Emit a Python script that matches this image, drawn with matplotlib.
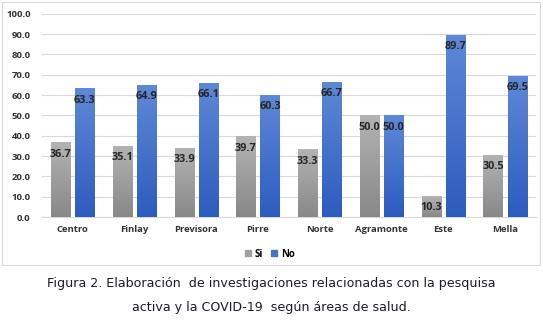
import numpy as np
import matplotlib.pyplot as plt
from matplotlib.patches import Rectangle
from matplotlib.colors import LinearSegmentedColormap

# --- Dati ---
areas = ['Centro', 'Finlay', 'Previsora', 'Pirre', 'Norte', 'Agramonte', 'Este', 'Mella']
si = [36.7, 35.1, 33.9, 39.7, 33.3, 50.0, 10.3, 30.5]
no = [63.3, 64.9, 66.1, 60.3, 66.7, 50.0, 89.7, 69.5]
y_ticks = np.arange(0, 101, 10)

caption1 = 'Figura 2. Elaboración  de investigaciones relacionadas con la pesquisa'
caption2 = 'activa y la COVID-19  según áreas de salud.'

tick_font = 'Open Sans'
gray_cmap = LinearSegmentedColormap.from_list('g', ['#888888', '#b3b3b3'])
blue_cmap = LinearSegmentedColormap.from_list('b', ['#2d5cbf', '#5f88d6'])

fig = plt.figure(figsize=(5.43, 3.22), dpi=100)
ax = fig.add_axes([0.077, 0.326, 0.91, 0.631])

x = np.arange(len(areas))
w = 0.31
off = 0.195

bars_si = ax.bar(x - off, si, w, color='#a0a0a0', zorder=2)
bars_no = ax.bar(x + off, no, w, color='#4472c4', zorder=2)

# gradiente verticale sulle barre
grad = np.linspace(0, 1, 256).reshape(-1, 1)
for bars, cmap in [(bars_si, gray_cmap), (bars_no, blue_cmap)]:
    for b in bars:
        bx, by, bw, bh = b.get_x(), b.get_y(), b.get_width(), b.get_height()
        im = ax.imshow(grad, cmap=cmap, origin='lower', aspect='auto',
                       extent=[bx, bx + bw, by, by + bh], zorder=3)
        im.set_clip_path(b)
        b.set_alpha(0)

# etichette valori
for bars, vals in [(bars_si, si), (bars_no, no)]:
    for b, v in zip(bars, vals):
        ax.annotate(f'{v:.1f}', (b.get_x() + b.get_width() / 2, v),
                    xytext=(0, -8.5), textcoords='offset points',
                    ha='center', va='center', fontsize=7.8, fontweight='bold',
                    family=tick_font, color='#262626', zorder=5)

ax.set_xlim(-0.5, len(areas) - 0.5)
ax.set_ylim(0, 100)
ax.set_yticks(y_ticks)
ax.set_yticklabels([f'{t:.1f}' for t in y_ticks])
ax.set_xticks(x)
ax.set_xticklabels(areas)
for lab in ax.get_xticklabels() + ax.get_yticklabels():
    lab.set_family(tick_font)
    lab.set_fontweight('bold')
    lab.set_fontsize(6.8)
    lab.set_color('#333333')
ax.tick_params(length=0, pad=6)
ax.tick_params(axis='y', pad=8)
ax.grid(axis='y', color='#d9d9d9', linewidth=0.8, zorder=0)
for s in ['top', 'right', 'left']:
    ax.spines[s].set_visible(False)
ax.spines['bottom'].set_color('#d9d9d9')
ax.spines['bottom'].set_linewidth(0.8)

# legenda
h1 = Rectangle((0, 0), 1, 1, color='#a0a0a0')
h2 = Rectangle((0, 0), 1, 1, color='#4472c4')
fig.legend([h1, h2], ['Si', 'No'], loc='center', bbox_to_anchor=(0.497, 0.211),
           ncol=2, frameon=False, handlelength=0.6, handleheight=0.6,
           handletextpad=0.4, columnspacing=0.8,
           prop={'family': tick_font, 'weight': 'bold', 'size': 7})

# bordo del grafico
fig.add_artist(Rectangle((0.003, 0.177), 0.992, 0.818, transform=fig.transFigure,
                         fill=False, edgecolor='#d9d9d9', linewidth=0.8))

# didascalia
fig.text(0.5, 0.121, caption1, ha='center', va='center', fontsize=9.1,
         family='DejaVu Sans', color='#1c1c2c')
fig.text(0.5, 0.046, caption2, ha='center', va='center', fontsize=9.1,
         family='DejaVu Sans', color='#1c1c2c')

fig.savefig('out.png', dpi=100)
